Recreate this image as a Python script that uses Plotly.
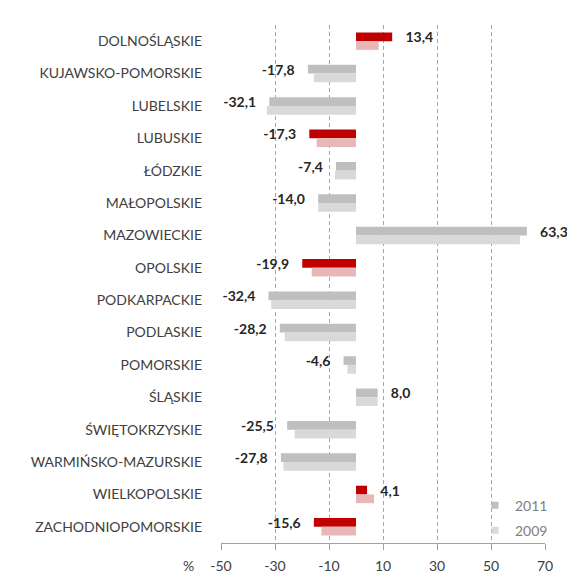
import plotly.graph_objects as go

REGIONS = ["DOLNOŚLĄSKIE", "KUJAWSKO-POMORSKIE", "LUBELSKIE", "LUBUSKIE", "ŁÓDZKIE",
           "MAŁOPOLSKIE", "MAZOWIECKIE", "OPOLSKIE", "PODKARPACKIE", "PODLASKIE",
           "POMORSKIE", "ŚLĄSKIE", "ŚWIĘTOKRZYSKIE", "WARMIŃSKO-MAZURSKIE",
           "WIELKOPOLSKIE", "ZACHODNIOPOMORSKIE"]
V2011 = [13.4, -17.8, -32.1, -17.3, -7.4, -14.0, 63.3, -19.9, -32.4, -28.2,
         -4.6, 8.0, -25.5, -27.8, 4.1, -15.6]
V2009 = [8.4, -15.6, -33.0, -14.6, -7.8, -14.0, 60.7, -16.4, -31.4, -26.4,
         -3.2, 8.0, -22.7, -26.9, 6.7, -12.8]
HIGHLIGHT = {"DOLNOŚLĄSKIE", "LUBUSKIE", "OPOLSKIE", "WIELKOPOLSKIE", "ZACHODNIOPOMORSKIE"}
XTICKS = [-50, -30, -10, 10, 30, 50, 70]

FONT = "Lato"
C2011, C2009 = "#BFBFBF", "#D9D9D9"
R2011, R2009 = "#C00000", "#E6B9B8"
PAD = "\u00a0\u00a0\u00a0"

def fmt(v):
    s = f"{v:.1f}".replace(".", ",")
    return s + PAD if v < 0 else PAD + s

col11 = [R2011 if r in HIGHLIGHT else C2011 for r in REGIONS]
col09 = [R2009 if r in HIGHLIGHT else C2009 for r in REGIONS]

fig = go.Figure()
fig.add_trace(go.Bar(
    y=REGIONS, x=V2011, orientation="h", name="2011", showlegend=False,
    marker=dict(color=col11, line=dict(width=0)),
    text=[fmt(v) for v in V2011], textposition="outside", cliponaxis=False,
    constraintext="none",
    textfont=dict(family=FONT, size=14, color="#262626", weight="bold"),
))
fig.add_trace(go.Bar(
    y=REGIONS, x=V2009, orientation="h", name="2009", showlegend=False,
    marker=dict(color=col09, line=dict(width=0)),
))
fig.add_trace(go.Scatter(x=[None], y=[None], mode="markers", name="2011",
                         marker=dict(symbol="square", size=7, color=C2011),
                         legend="legend"))
fig.add_trace(go.Scatter(x=[None], y=[None], mode="markers", name="2009",
                         marker=dict(symbol="square", size=7, color=C2009),
                         legend="legend2"))

fig.update_layout(
    width=567, height=575,
    template="none",
    paper_bgcolor="white", plot_bgcolor="white",
    margin=dict(l=221, r=22, t=25, b=32, autoexpand=False),
    barmode="group", bargap=0.46, bargroupgap=0,
    font=dict(family=FONT, size=14, color="#404040"),
    xaxis=dict(
        range=[-50, 70], tickmode="array", tickvals=XTICKS,
        ticktext=[str(t) for t in XTICKS],
        showgrid=True, gridcolor="#A6A6A6", griddash="4px,3px", gridwidth=1,
        zeroline=False, showline=True, linecolor="#A0A0A0", linewidth=1,
        ticks="outside", ticklen=6, tickcolor="#A0A0A0",
        tickfont=dict(family=FONT, size=14, color="#404040"),
        ticklabelstandoff=4, automargin=False, fixedrange=True,
    ),
    yaxis=dict(
        type="category", categoryorder="array", categoryarray=REGIONS,
        range=[15.5, -0.5], showgrid=False, zeroline=False, showline=False,
        ticks="", tickfont=dict(family=FONT, size=14, color="#404040"),
        ticklabelstandoff=18, automargin=False, fixedrange=True,
    ),
    yaxis2=dict(
        overlaying="y", anchor="free", position=50 / 120, side="left",
        range=[15.5, -0.5], tick0=0.5, dtick=1, showticklabels=False,
        ticks="outside", ticklen=4, tickcolor="#A0A0A0",
        showline=True, linecolor="#A0A0A0", linewidth=1,
        showgrid=False, zeroline=False, fixedrange=True,
    ),
    legend=dict(x=(495 - 20 - 221) / 324, xanchor="left",
                y=(543 - 505.7) / 518, yanchor="middle",
                bgcolor="rgba(0,0,0,0)", borderwidth=0,
                font=dict(family=FONT, size=14, color="#808080")),
    legend2=dict(x=(495 - 20 - 221) / 324, xanchor="left",
                 y=(543 - 530.7) / 518, yanchor="middle",
                 bgcolor="rgba(0,0,0,0)", borderwidth=0,
                 font=dict(family=FONT, size=14, color="#808080")),
    annotations=[dict(text="%", xref="paper", yref="paper",
                      x=(188 - 221) / 324, y=(543 - 565) / 518,
                      xanchor="center", yanchor="middle", showarrow=False,
                      font=dict(family=FONT, size=14, color="#404040"))],
)

fig.write_html("out.html",
               config={"displayModeBar": False},
               post_script="document.body.style.margin='0px';"
                           "document.body.style.overflow='hidden';")
